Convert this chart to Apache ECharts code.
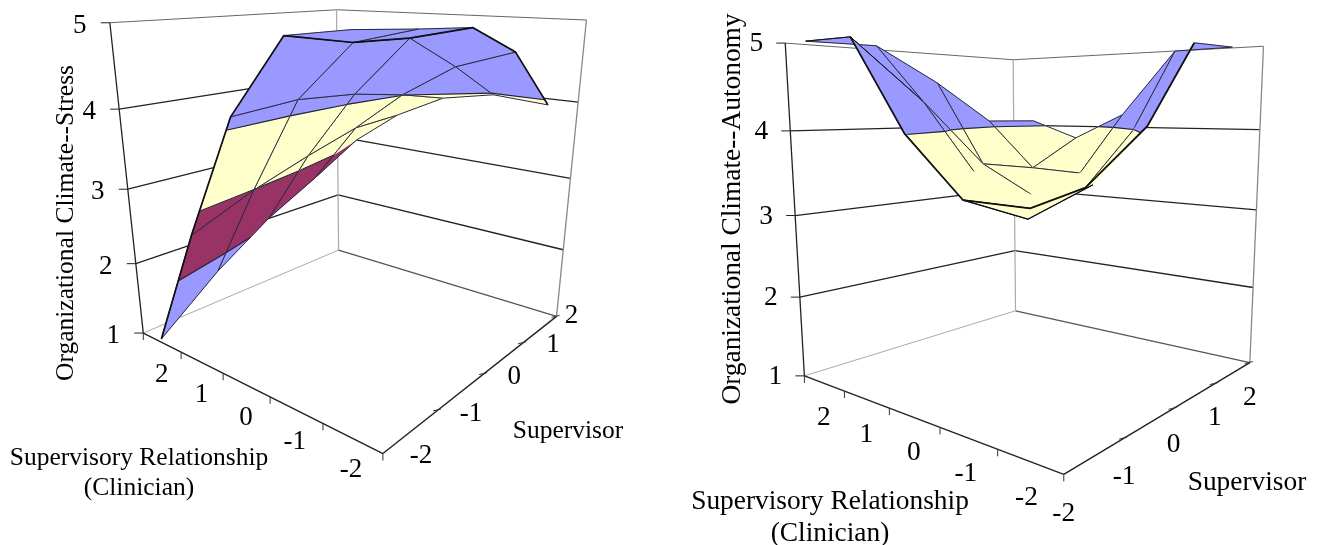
<!DOCTYPE html><html><head><meta charset="utf-8"><style>html,body{margin:0;background:#fff}#c{width:1318px;height:545px}</style><script src="https://cdn.jsdelivr.net/npm/echarts@6/dist/echarts.min.js"></script></head><body><div id="c"></div><script>
// ---- data ----
const relLabels = ['2','1','0','-1','-2'];
const supLabels = ['-2','-1','0','1','2'];
const zLabels = ['1','2','3','4','5'];
const stressZ = [
 [1.05,1.68,2.19,2.58,3.00],
 [2.67,2.99,3.24,3.46,3.50],
 [4.15,4.20,4.14,4.01,3.84],
 [5.00,4.87,4.85,4.44,3.97],
 [5.09,5.04,5.00,4.67,3.92]];
const autonomyZ = [
 [5.00,5.01,4.59,4.08,4.07],
 [5.00,4.34,3.56,3.45,3.83],
 [4.01,3.56,3.22,3.42,4.17],
 [3.40,3.22,3.36,3.99,5.00],
 [3.29,3.52,4.07,5.00,5.01]];
// ---- view (perspective scale of each 3-D box) ----
const camStress = [143.742,296.402,-48.3717,143.294,6.90489,-8.29344,-313.402,333.071,-0.250360,0.298694,-0.135910];
const camAuto = [-27.2152,537.193,-74.1984,804.388,-29.2895,34.6763,-335.803,375.870,-0.269419,0.321057,-0.0700899];
const bandColors = ['#9999FF','#993366','#FFFFCC','#9999FF'];
const SERIF = '"Liberation Serif","Times New Roman",serif';
const mk = (cam) => (a,b,z) => { const t=(z-1)/4, w=cam[8]*a+cam[9]*b+cam[10]*t+1;
  return [(cam[0]*a+cam[1]*b+cam[2]*t+cam[3])/w,(cam[4]*a+cam[5]*b+cam[6]*t+cam[7])/w]; };
const aOf = i => (i+0.5)/relLabels.length, bOf = j => j/(supLabels.length-1);
const line = (p,q,stroke,lineWidth) => ({type:'line',shape:{x1:p[0],y1:p[1],x2:q[0],y2:q[1]},style:{stroke,lineWidth}});

function frameChildren(P){
  const ch=[];
  const levels=zLabels.map(Number);
  levels.forEach(z=>{
    const inner = z===1?'#aaaaaa':(z===5?'#666666':'#222222'), inner2 = z===1?'#555555':(z===5?'#666666':'#222222');
    ch.push(line(P(0,0,z),P(0,1,z),inner,z===1||z===5?1:1.3));
    ch.push(line(P(0,1,z),P(1,1,z),inner2,z===5?1.1:1.3));
    const l=P(0,0,z); ch.push(line([l[0]-9,l[1]],l,'#222',1));
  });
  ch.push(line(P(0,1,1),P(0,1,5),'#aaaaaa',1.2));
  ch.push(line(P(1,1,1),P(1,1,5),'#888888',1.3));
  ch.push(line(P(0,0,1),P(0,0,5),'#222',1.3));
  ch.push(line(P(0,0,1),P(1,0,1),'#222',1.4));
  ch.push(line(P(1,0,1),P(1,1,1),'#222',1.4));
  for(let i=0;i<=relLabels.length;i++){const p=P(i/relLabels.length,0,1);ch.push(line(p,[p[0],p[1]+7],'#333',1));}
  for(let j=1;j<supLabels.length;j++){const p=P(1,j/(supLabels.length-1),1);ch.push(line([p[0]-5,p[1]+1],[p[0]+3,p[1]-1],'#333',1));}
  return ch;
}
function clipBand(poly,lo,hi){
  const clip=(pts,keep,val)=>{const out=[];pts.forEach((p,k)=>{const q=pts[(k+1)%pts.length],ip=keep(p[2]),iq=keep(q[2]);
    if(ip)out.push(p);
    if(ip!==iq){const s=(val-p[2])/(q[2]-p[2]);out.push([p[0]+s*(q[0]-p[0]),p[1]+s*(q[1]-p[1]),val]);}});return out;};
  let r=clip(poly,z=>z>=lo,lo); if(r.length) r=clip(r,z=>z<=hi,hi); return r;
}
function cellChildren(P,Z,i,j,hideRow,hideCol){
  const v=(I,J)=>[aOf(I),bOf(J),Z[I][J]];
  const poly=[v(i,j),v(i,j+1),v(i+1,j+1),v(i+1,j)];
  const ch=[];
  bandColors.forEach((col,k)=>{
    const lo=k===0?-Infinity:k+1, hi=k===bandColors.length-1?Infinity:k+2;
    const r=clipBand(poly,lo,hi);
    if(r.length>2) ch.push({type:'polygon',shape:{points:r.map(p=>P(p[0],p[1],p[2]))},style:{fill:col,stroke:col,lineWidth:0.6}});
  });
  // band edges
  [2,3,4].forEach(lv=>{const c=[];poly.forEach((p,k)=>{const q=poly[(k+1)%4];
    if((p[2]-lv)*(q[2]-lv)<0){const s=(lv-p[2])/(q[2]-p[2]);c.push(P(p[0]+s*(q[0]-p[0]),p[1]+s*(q[1]-p[1]),lv));}});
    for(let k=0;k+1<c.length;k+=2) ch.push(line(c[k],c[k+1],'#222233',1.1));});
  const mesh=(I,J,I2,J2)=>line(P(...v(I,J)),P(...v(I2,J2)),'#2a2a3a',1);
  const hr=(I,J)=>hideRow.some(e=>e[0]===I&&e[1]===J), hc=(I,J)=>hideCol.some(e=>e[0]===I&&e[1]===J);
  if(!hr(i,j)) ch.push(mesh(i,j,i,j+1));
  if(!hr(i+1,j)) ch.push(mesh(i+1,j,i+1,j+1));
  if(!hc(i,j)) ch.push(mesh(i,j,i+1,j));
  if(!hc(i,j+1)) ch.push(mesh(i,j+1,i+1,j+1));
  return ch;
}
const cells=[]; for(let i=0;i<relLabels.length-1;i++) for(let j=supLabels.length-2;j>=0;j--) cells.push([i,j]);
function texts(P,font,titleFont,opt){
  const ch=[];
  const t=(s,x,y,f,rot)=>ch.push({type:'text',x,y:y+1,rotation:rot||0,style:{text:s,font:f,fill:'#000',textAlign:'center',textVerticalAlign:'middle'}});
  zLabels.forEach(s=>{const p=P(0,0,+s);t(s,p[0]+opt.zOff[0],p[1]+opt.zOff[1],font);});
  relLabels.forEach((s,i)=>{const p=P(aOf(i),0,1);t(s,p[0]+opt.relOff[i][0],p[1]+opt.relOff[i][1],font);});
  supLabels.forEach((s,j)=>{const p=P(1,bOf(j),1);t(s,p[0]+opt.supOff[j][0],p[1]+opt.supOff[j][1],font);});
  t(opt.zTitle,opt.zPos[0],opt.zPos[1],titleFont,Math.PI/2);
  t('Supervisor',opt.supPos[0],opt.supPos[1],titleFont);
  t('Supervisory Relationship',opt.relPos[0],opt.relPos[1],titleFont);
  t('(Clinician)',opt.relPos[0],opt.relPos[1]+opt.relGap,titleFont);
  return ch;
}
const one=(fn,z)=>({type:'custom',coordinateSystem:'none',z,silent:true,animation:false,clip:false,data:[[0]],renderItem:()=>({type:'group',children:fn()})});
function chart(cam,Z,thick,hideRow,hideCol,font,titleFont,opt){
  const P=mk(cam), V=(e)=>P(aOf(e[0]),bOf(e[1]),Z[e[0]][e[1]]);
  return [
    one(()=>frameChildren(P),1),
    {type:'custom',coordinateSystem:'none',z:2,silent:true,animation:false,clip:false,data:cells,
     renderItem:(params)=>{const c=cells[params.dataIndex];return {type:'group',children:cellChildren(P,Z,c[0],c[1],hideRow,hideCol)};}},
    one(()=>thick.map(([path,w])=>({type:'polyline',shape:{points:path.map(V)},style:{stroke:'#111',lineWidth:w,fill:null,lineJoin:'round'}})),3),
    one(()=>texts(P,font,titleFont,opt),4)
  ];
}
const stressThick=[[[[0,0],[1,0],[2,0],[3,0],[3,1],[3,2],[4,2],[4,3],[4,4]],1.7]];
const autoThick=[[[[1,0],[2,0],[3,0],[3,1],[3,2],[4,2],[4,3]],1.8],[[[3,0],[4,0],[4,1]],1.3],[[[0,0],[1,0],[1,1]],0.9]];
const autoHideRow=[[2,0],[2,1],[2,2],[4,1],[4,2]];
const autoHideCol=[[2,1],[2,2],[2,3],[3,1],[3,2],[3,3]];
const option={backgroundColor:'#fff',animation:false,series:[
 ...chart(camStress,stressZ,stressThick,[],[],'27px '+SERIF,'25.5px '+SERIF,{
   zOff:[-30,2],zTitle:'Organizational Climate--Stress',zPos:[66,222],supPos:[568,430],relPos:[139,457],relGap:30,
   relOff:[[0,32],[0,32],[0,32],[-1,31],[-1,31]],supOff:[[38,1],[33,3],[30,2],[30,1],[15,-1]]}),
 ...chart(camAuto,autonomyZ,autoThick,autoHideRow,autoHideCol,'27.4px '+SERIF,'27.4px '+SERIF,{
   zOff:[-29,0],zTitle:'Organizational Climate--Autonomy',zPos:[733,208],supPos:[1247,482],relPos:[830,501],relGap:32,
   relOff:[[0,34],[0,34],[0,34],[-2,35],[-3,35]],supOff:[[0,38],[0,38],[0,35],[0,33],[0,34]]})
]};
echarts.init(document.getElementById('c'),null,{renderer:'canvas'}).setOption(option);
</script></body></html>
